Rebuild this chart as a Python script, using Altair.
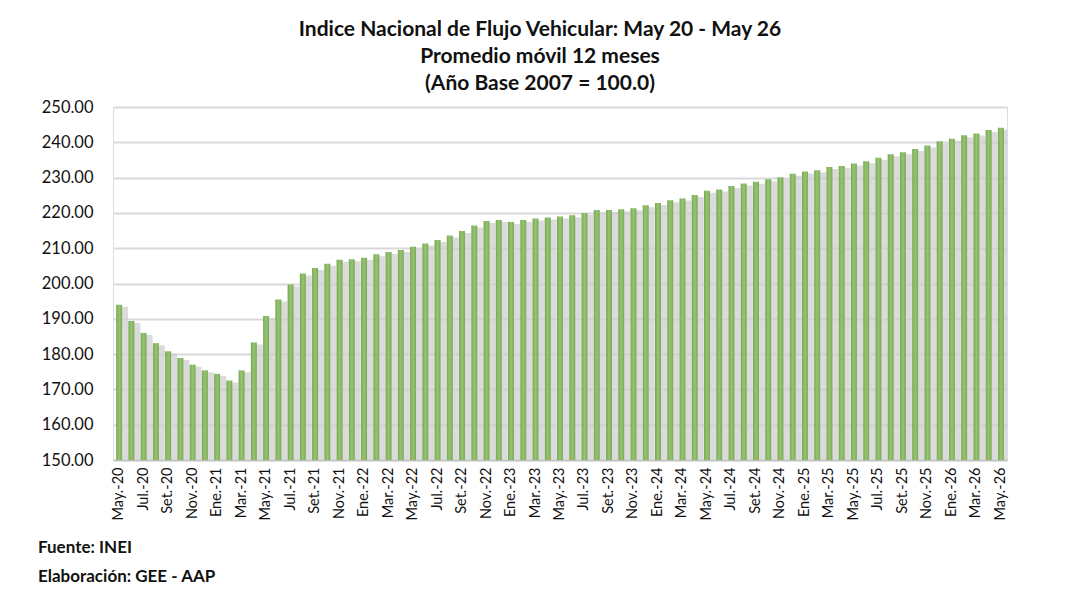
import altair as alt
import pandas as pd

month_abbr = ["Ene.", "Feb.", "Mar.", "Abr.", "May.", "Jun.", "Jul.", "Ago.", "Set.", "Oct.", "Nov.", "Dic."]

values = [
    194.0, 189.4, 186.0, 183.1, 180.8, 178.9, 177.0, 175.4, 174.4, 172.5, 175.4, 183.3,
    190.8, 195.5, 199.7, 202.8, 204.4, 205.6, 206.7, 206.9, 207.3, 208.3, 208.9, 209.5,
    210.4, 211.3, 212.3, 213.6, 214.9, 216.4, 217.7, 218.0, 217.4, 218.0, 218.4, 218.7,
    219.0, 219.3, 220.0, 220.8, 220.8, 221.0, 221.3, 222.2, 222.8, 223.6, 224.1, 225.1,
    226.3, 226.6, 227.6, 228.3, 228.8, 229.5, 230.1, 231.1, 231.7, 232.1, 233.0, 233.3,
    234.0, 234.6, 235.6, 236.6, 237.2, 238.1, 239.1, 240.3, 241.0, 242.0, 242.5, 243.5,
    244.1,
]

categories = []
m, y = 4, 20
for _ in values:
    categories.append(f"{month_abbr[m]}-{y}")
    m += 1
    if m == 12:
        m, y = 0, y + 1

shown_labels = categories[::2]

title_lines = [
    "Indice Nacional de Flujo Vehicular: May 20 - May 26",
    "Promedio móvil 12 meses",
    "(Año Base 2007 = 100.0)",
]
notes = ["Fuente: INEI", "Elaboración: GEE - AAP"]

df = pd.DataFrame({"mes": categories, "indice": values})

FONT = "Lato"
W, H = 894, 353
BASE = 150

x_enc = alt.X(
    "mes:N",
    sort=categories,
    scale=alt.Scale(paddingInner=0.5, paddingOuter=0.25),
    axis=alt.Axis(
        values=shown_labels,
        labelAngle=-90,
        labelFont=FONT,
        labelFontSize=14.5,
        labelColor="#111111",
        labelPadding=7,
        ticks=False,
        domainColor="#bfbfbf",
        domainWidth=1.5,
        title=None,
        grid=False,
    ),
)
y_enc = alt.Y(
    "indice:Q",
    scale=alt.Scale(domain=[150, 250], zero=False, nice=False),
    axis=alt.Axis(
        values=list(range(150, 251, 10)),
        format=".2f",
        labelFont=FONT,
        labelFontSize=16.5,
        labelColor="#111111",
        labelPadding=20,
        ticks=False,
        domain=False,
        gridColor="#d9d9d9",
        gridWidth=2,
        title=None,
    ),
)

base = alt.Chart(df)

shadow = base.mark_bar(color="#cfcfcf", opacity=0.75, width=10, xOffset=4, yOffset=2, clip=True).encode(
    x=x_enc, y=y_enc, y2=alt.datum(BASE)
)

bars = base.mark_bar(
    width=6,
    clip=True,
    color=alt.Gradient(
        gradient="linear",
        x1=0, x2=1, y1=0, y2=0,
        stops=[
            alt.GradientStop(offset=0, color="#78a852"),
            alt.GradientStop(offset=0.5, color="#97c474"),
            alt.GradientStop(offset=1, color="#7aaa55"),
        ],
    ),
).encode(x=x_enc, y=y_enc, y2=alt.datum(BASE))

notes_df = pd.DataFrame({"t": notes})
foot1 = alt.Chart(notes_df.iloc[[0]]).mark_text(
    font=FONT, fontSize=17, fontWeight="bold", align="left", baseline="middle", color="#111111"
).encode(text="t:N", x=alt.value(-75), y=alt.value(441))
foot2 = alt.Chart(notes_df.iloc[[1]]).mark_text(
    font=FONT, fontSize=17, fontWeight="bold", align="left", baseline="middle", color="#111111"
).encode(text="t:N", x=alt.value(-75), y=alt.value(470))

chart = (
    alt.layer(shadow, bars, foot1, foot2)
    .properties(
        width=W,
        height=H,
        title=alt.TitleParams(
            text=title_lines,
            font=FONT,
            fontSize=21,
            fontWeight="bold",
            color="#111111",
            anchor="middle",
            dx=-20,
            lineHeight=27,
            offset=5,
        ),
        padding={"left": 105, "top": 99, "right": 60, "bottom": 125},
        autosize=alt.AutoSizeParams(type="none"),
    )
    .configure_view(stroke=None)
    .configure(background="white")
)

chart.save("out.html", embed_options={"renderer": "svg", "actions": False})
